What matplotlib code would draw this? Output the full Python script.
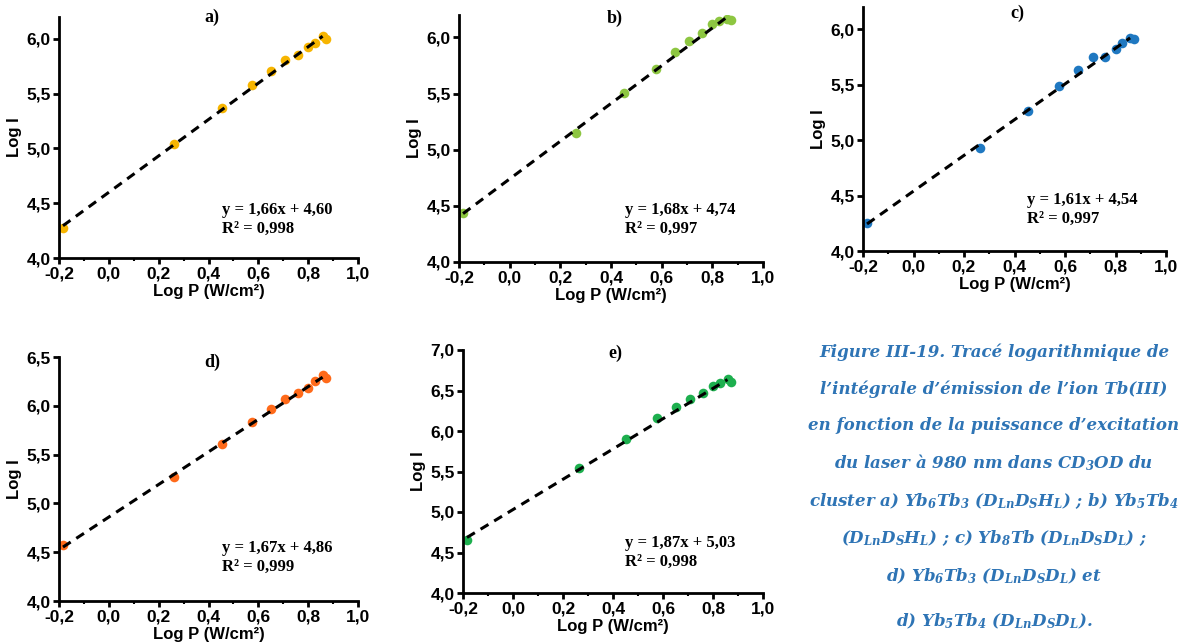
import matplotlib.pyplot as plt
import numpy as np
from matplotlib.ticker import MultipleLocator, FuncFormatter

# shared x values (log of laser power density)
log_p = [-0.184, 0.263, 0.453, 0.576, 0.651, 0.709, 0.759, 0.800, 0.826, 0.858, 0.873]

# log of integrated emission, one list per cluster
log_i_a = [4.275, 5.038, 5.368, 5.579, 5.704, 5.808, 5.856, 5.930, 5.966, 6.024, 6.000]
log_i_b = [4.438, 5.146, 5.503, 5.723, 5.869, 5.970, 6.042, 6.119, 6.143, 6.167, 6.152]
log_i_c = [4.255, 4.931, 5.258, 5.491, 5.636, 5.748, 5.748, 5.824, 5.879, 5.924, 5.915]
log_i_d = [4.570, 5.270, 5.612, 5.831, 5.971, 6.073, 6.135, 6.186, 6.251, 6.312, 6.288]
log_i_e = [4.659, 5.549, 5.899, 6.155, 6.291, 6.394, 6.472, 6.555, 6.592, 6.641, 6.608]

# fit parameters as printed on each panel
slopes = [1.66, 1.68, 1.61, 1.67, 1.87]
intercepts = [4.60, 4.74, 4.54, 4.86, 5.03]
r2 = ["0,998", "0,997", "0,997", "0,999", "0,998"]
labels = ["a)", "b)", "c)", "d)", "e)"]
colors = ["#F7B500", "#8DC641", "#1F78C1", "#FF6A1A", "#1DAF4E"]
ymax = [6.2, 6.2, 6.2, 6.5, 7.0]
series = [log_i_a, log_i_b, log_i_c, log_i_d, log_i_e]

plt.rcParams['mathtext.fontset'] = 'custom'
plt.rcParams['mathtext.rm'] = 'DejaVu Serif:bold:italic'
plt.rcParams['mathtext.it'] = 'DejaVu Serif:bold:italic'
plt.rcParams['mathtext.bf'] = 'DejaVu Serif:bold:italic'

W, H = 1184, 643
fig = plt.figure(figsize=(W / 100, H / 100), dpi=100)

# axes boxes in pixels: left, right, top, bottom
boxes = [(59, 358, 17, 258), (459, 763, 15, 262), (863, 1166, 7, 251),
         (59, 358, 357, 601), (463, 763, 350, 593)]
# label and equation positions in pixels
label_pos = [(212, 17), (615, 18), (1017, 13), (212, 362), (615, 353)]
eq_pos = [(222, 210), (625, 210), (1027, 200), (222, 548), (625, 543)]

comma = FuncFormatter(lambda v, p: f"{v:.1f}".replace(".", ","))

for k in range(5):
    l, r, t, b = boxes[k]
    ax = fig.add_axes([l / W, 1 - b / H, (r - l) / W, (b - t) / H])
    ax.scatter(log_p, series[k], s=48, color=colors[k], zorder=2, linewidths=0)
    xf = np.array([log_p[0], log_p[-2]])
    ax.plot(xf, slopes[k] * xf + intercepts[k], ls=(0, (3, 2.2)), color="black", lw=2.2, zorder=3)
    ax.set_xlim(-0.2, 1.0)
    ax.set_ylim(4.0, ymax[k])
    ax.xaxis.set_major_locator(MultipleLocator(0.2))
    ax.xaxis.set_minor_locator(MultipleLocator(0.1))
    ax.yaxis.set_major_locator(MultipleLocator(0.5))
    ax.xaxis.set_major_formatter(comma)
    ax.yaxis.set_major_formatter(comma)
    for s in ["top", "right"]:
        ax.spines[s].set_visible(False)
    for s in ["left", "bottom"]:
        ax.spines[s].set_linewidth(2)
    ax.tick_params(which="major", length=4, width=2, labelsize=12.5, pad=2)
    ax.tick_params(which="minor", length=2.5, width=1.5)
    for lab in ax.get_xticklabels() + ax.get_yticklabels():
        lab.set_fontweight("bold")
        lab.set_family("Liberation Sans")
    ax.set_xlabel("Log P (W/cm²)", fontsize=12, fontweight="bold", family="Liberation Sans", labelpad=2)
    ax.set_ylabel("Log I", fontsize=12, fontweight="bold", family="Liberation Sans", labelpad=3)
    fig.text(label_pos[k][0] / W, 1 - label_pos[k][1] / H, labels[k], fontsize=13,
             fontweight="bold", family="Liberation Serif", ha="center", va="center")
    ex, ey = eq_pos[k]
    fig.text(ex / W, 1 - ey / H,
             f"y = {slopes[k]:.2f}x + {intercepts[k]:.2f}".replace(".", ","),
             fontsize=12, fontweight="bold", family="Liberation Serif", ha="left", va="center")
    fig.text(ex / W, 1 - (ey + 19) / H, f"R² = {r2[k]}",
             fontsize=12, fontweight="bold", family="Liberation Serif", ha="left", va="center")

caption = [
    "Figure III-19. Tracé logarithmique de",
    "l’intégrale d’émission de l’ion Tb(III)",
    "en fonction de la puissance d’excitation",
    "du laser à 980 nm dans CD$_3$OD du",
    "cluster a) Yb$_6$Tb$_3$ (D$_{Ln}$D$_S$H$_L$) ; b) Yb$_5$Tb$_4$",
    "(D$_{Ln}$D$_S$H$_L$) ; c) Yb$_8$Tb (D$_{Ln}$D$_S$D$_L$) ;",
    "d) Yb$_6$Tb$_3$ (D$_{Ln}$D$_S$D$_L$) et",
    "d) Yb$_5$Tb$_4$ (D$_{Ln}$D$_S$D$_L$).",
]
cap_y = [352, 389, 426, 463, 501, 538, 576, 621]
for line, y in zip(caption, cap_y):
    fig.text(994 / W, 1 - y / H, line, fontsize=12, fontweight="bold", style="italic",
             family="DejaVu Serif", color="#2E74B5", ha="center", va="center")

fig.savefig("out.png", dpi=100)
